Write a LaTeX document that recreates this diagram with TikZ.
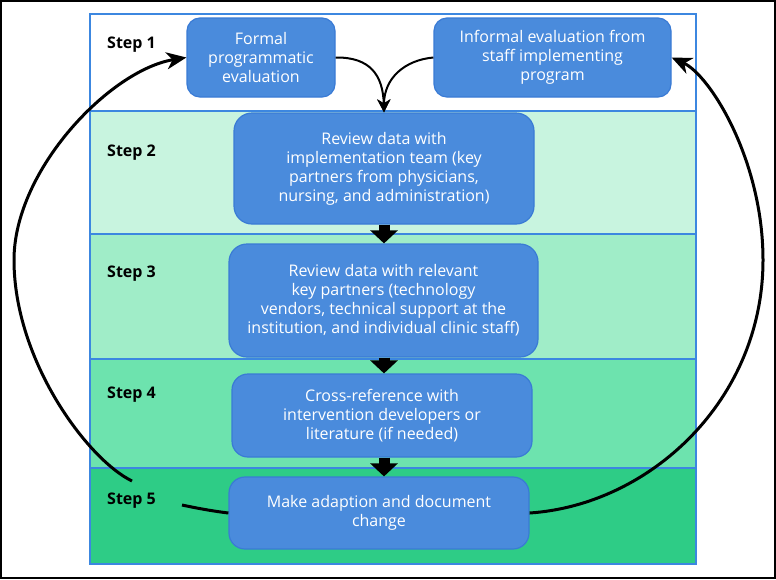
\documentclass[tikz,border=0pt]{standalone}
\usepackage{fontspec}
\setmainfont{Open Sans}
\usetikzlibrary{arrows.meta}
\definecolor{frameblue}{HTML}{3C87E0}
\definecolor{boxblue}{HTML}{4A8BDC}
\definecolor{boxedge}{HTML}{3A7BD5}
\definecolor{bandtwo}{HTML}{C8F4DF}
\definecolor{bandthree}{HTML}{A0EDC8}
\definecolor{bandfour}{HTML}{6DE3AE}
\definecolor{bandfive}{HTML}{2ECC86}

\begin{document}
\begin{tikzpicture}[x=1pt,y=-1pt]
    \tikzset{
      box/.style={draw=boxedge, fill=boxblue, line width=1.2pt, rounded corners=13pt, text=white, align=center, inner sep=0pt, font=\fontsize{16}{19}\selectfont},
      steplabel/.style={anchor=base west, inner sep=0pt, font=\fontsize{16}{19}\selectfont\bfseries},
      band/.style={draw=frameblue, line width=1.6pt},
      line/.style={draw, line width=2pt, -{Stealth[length=13pt,width=13pt,inset=4pt]}},
      backarc/.style={draw, line width=3pt, -{Stealth[length=20pt,width=17pt,inset=6pt]}},
      fatarrow/.style={draw, line width=11pt, -{Triangle[length=13pt,width=27pt]}}
    }
    \useasboundingbox (0,0) rectangle (776,579);
    \draw[line width=1.5pt] (1,1) rectangle (775,578);

    % bands
    \filldraw[band, fill=white] (90,14) rectangle (696,111);
    \filldraw[band, fill=bandtwo] (90,111) rectangle (696,234);
    \filldraw[band, fill=bandthree] (90,234) rectangle (696,359);
    \filldraw[band, fill=bandfour] (90,359) rectangle (696,468);
    \filldraw[band, fill=bandfive] (90,468) rectangle (696,564);

    \node [steplabel] (step1) at (107,48) {Step 1};
    \node [steplabel] (step2) at (107,156.5) {Step 2};
    \node [steplabel] (step3) at (107,277.5) {Step 3};
    \node [steplabel] (step4) at (107,398.5) {Step 4};
    \node [steplabel] (step5) at (107,504.5) {Step 5};

    \node [box, minimum width=148pt, minimum height=79pt] (formal) at (261,57.5) {Formal\\programmatic\\evaluation};
    \node [box, minimum width=237pt, minimum height=79pt] (informal) at (552.5,57.5) {Informal evaluation from\\staff implementing\\program};
    \node [box, rounded corners=18pt, minimum width=300pt, minimum height=111pt] (review) at (384,168.5) {Review data with\\implementation team (key\\partners from physicians,\\nursing, and administration)};
    \node [box, rounded corners=18pt, minimum width=309pt, minimum height=113pt] (partners) at (383.5,300.5) {Review data with relevant\\key partners (technology\\vendors, technical support at the\\institution, and individual clinic staff)};
    \node [box, rounded corners=16pt, minimum width=300pt, minimum height=83pt] (crossref) at (382,415.5) {Cross-reference with\\intervention developers or\\literature (if needed)};
    \node [box, rounded corners=16pt, minimum width=300pt, minimum height=72pt] (adapt) at (379,513) {Make adaption and document\\change};

    \coordinate (gapA) at (182,505);
    \coordinate (gapB) at (132,481);

    \path [line] (formal.east) .. controls (370,57) and (383,75) .. (review.north);
    \path [line] (informal.west) .. controls (405,60) and (384,78) .. (review.north);
    \path [fatarrow] (review.south) -- (review.south |- partners.north);
    \path [fatarrow] (partners.south -| review.south) -- (review.south |- crossref.north);
    \path [fatarrow] (crossref.south -| review.south) -- (review.south |- adapt.north);

    \draw [line width=3pt] (adapt.west) .. controls (212,511) and (196,508) .. (gapA);
    \path [backarc] (gapB) .. controls (87,459) and (14,360) .. (14,260) .. controls (14,170) and (110,70) .. (formal.west);
    \path [backarc] (adapt.east) .. controls (650,505) and (763,400) .. (763,260) .. controls (763,160) and (710,75) .. (informal.east);
\end{tikzpicture}
\end{document}
